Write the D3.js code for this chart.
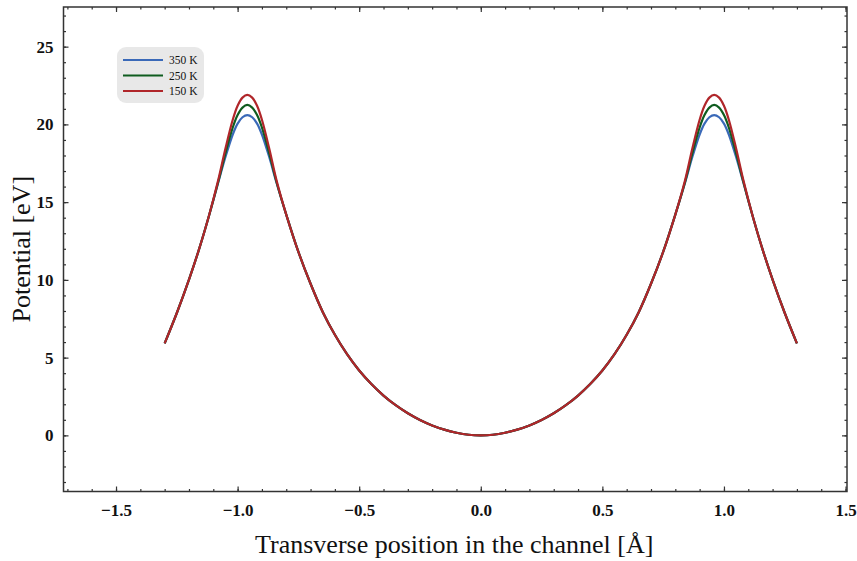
<!DOCTYPE html>
<html>
<head>
<meta charset="utf-8">
<script src="https://cdn.jsdelivr.net/npm/d3@7"></script>
<style>
  body { margin: 0; background: #fff; }
  svg text { font-family: "Liberation Serif", "DejaVu Serif", serif; }
  .tick text { font-weight: bold; font-size: 17px; fill: #111; }
  .tick line { stroke: #333; stroke-width: 1.2; }
  .domain { display: none; }
</style>
</head>
<body>
<svg id="chart" width="857" height="561"></svg>
<script>
// transverse position [Å]
var xs = [-1.30, -1.25, -1.20, -1.16, -1.12, -1.08, -1.05, -1.02, -1.00, -0.98, -0.96, -0.94, -0.92, -0.90, -0.87, -0.84,
  -0.80, -0.75, -0.70, -0.65, -0.60, -0.55, -0.50, -0.45, -0.40, -0.35, -0.30, -0.25, -0.20, -0.15, -0.10, -0.05,
  0.00, 0.05, 0.10, 0.15, 0.20, 0.25, 0.30, 0.35, 0.40, 0.45, 0.50, 0.55, 0.60, 0.65, 0.70, 0.75, 0.80,
  0.84, 0.87, 0.90, 0.92, 0.94, 0.96, 0.98, 1.00, 1.02, 1.05, 1.08, 1.12, 1.16, 1.20, 1.25, 1.30];

// potential [eV] for each temperature
var v350 = [5.92, 7.87, 10.02, 11.9, 14.0, 16.25, 17.9, 19.35, 20.05, 20.46, 20.6, 20.46, 20.05, 19.35, 17.9, 16.25,
  14.2, 11.8, 9.75, 7.94, 6.47, 5.22, 4.17, 3.30, 2.56, 1.94, 1.42, 0.99, 0.64, 0.37, 0.17, 0.04,
  0.0, 0.04, 0.17, 0.37, 0.64, 0.99, 1.42, 1.94, 2.56, 3.30, 4.17, 5.22, 6.47, 7.94, 9.75, 11.8, 14.2,
  16.25, 17.9, 19.35, 20.05, 20.46, 20.6, 20.46, 20.05, 19.35, 17.9, 16.25, 14.0, 11.9, 10.02, 7.87, 5.92];
var v250 = [5.92, 7.87, 10.02, 11.9, 14.0, 16.3, 18.15, 19.8, 20.6, 21.08, 21.25, 21.08, 20.6, 19.8, 18.15, 16.3,
  14.2, 11.8, 9.75, 7.94, 6.47, 5.22, 4.17, 3.30, 2.56, 1.94, 1.42, 0.99, 0.64, 0.37, 0.17, 0.04,
  0.0, 0.04, 0.17, 0.37, 0.64, 0.99, 1.42, 1.94, 2.56, 3.30, 4.17, 5.22, 6.47, 7.94, 9.75, 11.8, 14.2,
  16.3, 18.15, 19.8, 20.6, 21.08, 21.25, 21.08, 20.6, 19.8, 18.15, 16.3, 14.0, 11.9, 10.02, 7.87, 5.92];
var v150 = [5.92, 7.87, 10.02, 11.9, 14.0, 16.4, 18.45, 20.3, 21.2, 21.72, 21.9, 21.72, 21.2, 20.3, 18.45, 16.4,
  14.2, 11.8, 9.75, 7.94, 6.47, 5.22, 4.17, 3.30, 2.56, 1.94, 1.42, 0.99, 0.64, 0.37, 0.17, 0.04,
  0.0, 0.04, 0.17, 0.37, 0.64, 0.99, 1.42, 1.94, 2.56, 3.30, 4.17, 5.22, 6.47, 7.94, 9.75, 11.8, 14.2,
  16.4, 18.45, 20.3, 21.2, 21.72, 21.9, 21.72, 21.2, 20.3, 18.45, 16.4, 14.0, 11.9, 10.02, 7.87, 5.92];

var labels = ["350 K", "250 K", "150 K"];
var colors = ["#3a69b8", "#0f5c1f", "#b0262a"];

var xTicks = [-1.5, -1.0, -0.5, 0.0, 0.5, 1.0, 1.5];
var yTicks = [0, 5, 10, 15, 20, 25];

var svg = d3.select("#chart");
var L = 63.5, R = 847, T = 7, B = 491.5;

var x = d3.scaleLinear().domain([-1.716, 1.506]).range([L, R]);
var y = d3.scaleLinear().domain([-3.61, 27.55]).range([B, T]);

// minor ticks
var xMinor = d3.range(-17, 16).map(function(i){ return i / 10; });
var yMinor = d3.range(-3, 28);

function fmt(d){ return d3.format(".1f")(d).replace("-", "\u2212"); }

svg.append("g").attr("transform", "translate(0," + B + ")")
  .call(d3.axisBottom(x).tickValues(xMinor).tickSize(-2.5).tickFormat(""));
svg.append("g").attr("transform", "translate(0," + T + ")")
  .call(d3.axisTop(x).tickValues(xMinor).tickSize(-2.5).tickFormat(""));
svg.append("g").attr("transform", "translate(" + L + ",0)")
  .call(d3.axisLeft(y).tickValues(yMinor).tickSize(-2.5).tickFormat(""));
svg.append("g").attr("transform", "translate(" + R + ",0)")
  .call(d3.axisRight(y).tickValues(yMinor).tickSize(-2.5).tickFormat(""));

svg.append("g").attr("transform", "translate(0," + B + ")")
  .call(d3.axisBottom(x).tickValues(xTicks).tickSize(-5).tickPadding(12).tickFormat(fmt));
svg.append("g").attr("transform", "translate(0," + T + ")")
  .call(d3.axisTop(x).tickValues(xTicks).tickSize(-5).tickFormat(""));
svg.append("g").attr("transform", "translate(" + L + ",0)")
  .call(d3.axisLeft(y).tickValues(yTicks).tickSize(-5).tickPadding(10).tickFormat(d3.format("d")));
svg.append("g").attr("transform", "translate(" + R + ",0)")
  .call(d3.axisRight(y).tickValues(yTicks).tickSize(-5).tickFormat(""));

svg.append("rect")
  .attr("x", L).attr("y", T).attr("width", R - L).attr("height", B - T)
  .attr("fill", "none").attr("stroke", "#333").attr("stroke-width", 1.5);

var line = d3.line()
  .x(function(d){ return x(d[0]); })
  .y(function(d){ return y(d[1]); })
  .curve(d3.curveCatmullRom.alpha(0.5));

[v350, v250, v150].forEach(function(vals, i){
  svg.append("path")
    .datum(xs.map(function(xv, j){ return [xv, vals[j]]; }))
    .attr("d", line)
    .attr("fill", "none")
    .attr("stroke", colors[i])
    .attr("stroke-width", 2.2);
});

// legend
var lg = svg.append("g").attr("transform", "translate(117,47)");
lg.append("rect").attr("width", 87).attr("height", 56).attr("rx", 9)
  .attr("fill", "#e6e6e6").attr("opacity", 0.9);
labels.forEach(function(lab, i){
  var yy = 13 + i * 15.5;
  lg.append("line").attr("x1", 6).attr("x2", 46).attr("y1", yy).attr("y2", yy)
    .attr("stroke", colors[i]).attr("stroke-width", 2.2);
  lg.append("text").attr("x", 52).attr("y", yy + 4).attr("font-size", 11.5)
    .attr("fill", "#111").text(lab);
});

// axis titles
svg.append("text")
  .attr("x", (L + R) / 2 - 1).attr("y", 553)
  .attr("text-anchor", "middle").attr("font-size", 26).attr("fill", "#111")
  .text("Transverse position in the channel [\u00c5]");
svg.append("text")
  .attr("transform", "translate(30," + ((T + B) / 2) + ") rotate(-90)")
  .attr("text-anchor", "middle").attr("font-size", 26).attr("fill", "#111")
  .text("Potential [eV]");
</script>
</body>
</html>
